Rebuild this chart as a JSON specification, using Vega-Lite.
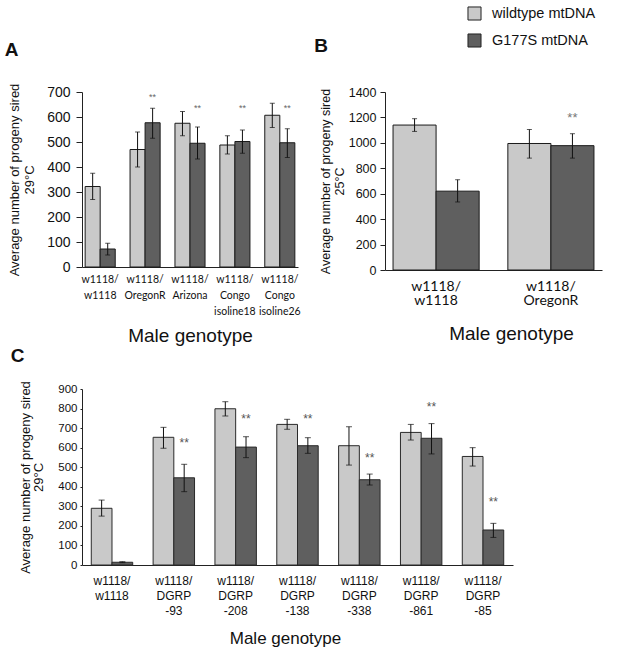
{
  "$schema": "https://vega.github.io/schema/vega-lite/v6.json",
  "padding": {"left": 4, "top": 6, "right": 4, "bottom": 4},
  "spacing": 0,
  "resolve": {"scale": {"xOffset": "independent"}},
  "config": {
    "font": "Liberation Sans",
    "view": {"stroke": null},
    "axis": {"grid": false, "domainColor": "#222", "tickColor": "#222", "labelColor": "#111", "titleColor": "#111", "titleFontWeight": "normal"},
    "axisY": {"labelOverlap": false, "format": "d"},
    "title": {"fontSize": 19, "fontWeight": "bold", "anchor": "start", "frame": "bounds", "color": "#111"},
    "legend": {
      "orient": "none", "legendX": 385, "legendY": -86, "padding": 0,
      "symbolType": "square", "symbolSize": 170, "symbolStrokeColor": "#222", "symbolStrokeWidth": 1,
      "labelFontSize": 14.5, "labelColor": "#111", "labelOffset": 10, "rowPadding": 8
    }
  },
  "vconcat": [
    {
      "hconcat": [
        {
          "title": {"text": "A", "dx": -4, "offset": 23},
          "width": 216,
          "height": 175,
          "data": {"values": [
            {"genotype": "w1118/ w1118", "mt": "wildtype mtDNA", "mean": 322, "lo": 270, "hi": 375},
            {"genotype": "w1118/ w1118", "mt": "G177S mtDNA", "mean": 72, "lo": 48, "hi": 95},
            {"genotype": "w1118/ OregonR", "mt": "wildtype mtDNA", "mean": 470, "lo": 400, "hi": 540},
            {"genotype": "w1118/ OregonR", "mt": "G177S mtDNA", "mean": 577, "lo": 515, "hi": 635, "star": 681},
            {"genotype": "w1118/ Arizona", "mt": "wildtype mtDNA", "mean": 575, "lo": 525, "hi": 622},
            {"genotype": "w1118/ Arizona", "mt": "G177S mtDNA", "mean": 495, "lo": 432, "hi": 560, "star": 635},
            {"genotype": "w1118/ Congo isoline18", "mt": "wildtype mtDNA", "mean": 488, "lo": 452, "hi": 525},
            {"genotype": "w1118/ Congo isoline18", "mt": "G177S mtDNA", "mean": 502, "lo": 455, "hi": 548, "star": 635},
            {"genotype": "w1118/ Congo isoline26", "mt": "wildtype mtDNA", "mean": 607, "lo": 558, "hi": 655},
            {"genotype": "w1118/ Congo isoline26", "mt": "G177S mtDNA", "mean": 497, "lo": 438, "hi": 553, "star": 635}
          ]},
          "encoding": {
            "x": {"field": "genotype", "type": "nominal", "sort": null,
              "scale": {"paddingInner": 0.33, "paddingOuter": 0.07},
              "axis": {"labelExpr": "split(datum.label, ' ')", "labelAngle": 0, "labelFont": "Lato", "labelFontSize": 10.5, "labelLineHeight": 16, "labelPadding": 7, "ticks": false,
                "title": "Male genotype", "titleFontSize": 19, "titlePadding": 10}},
            "xOffset": {"field": "mt", "type": "nominal", "sort": ["wildtype mtDNA", "G177S mtDNA"]}
          },
          "layer": [
            {
              "mark": {"type": "bar", "stroke": "#1a1a1a", "strokeWidth": 1},
              "encoding": {
                "y": {"field": "mean", "type": "quantitative", "scale": {"domain": [0, 700]},
                  "axis": {"values": [0, 100, 200, 300, 400, 500, 600, 700], "labelOverlap": false, "labelFontSize": 14, "tickSize": 6, "labelPadding": 6,
                    "title": ["Average number of progeny sired", "29°C"], "titleFontSize": 13, "titleLineHeight": 15, "titlePadding": 10}},
                "color": {"field": "mt", "type": "nominal", "title": null,
                  "scale": {"domain": ["wildtype mtDNA", "G177S mtDNA"], "range": ["#c9c9c9", "#5f5f5f"]}}
              }
            },
            {"mark": {"type": "rule", "color": "#111"}, "encoding": {"y": {"field": "lo", "type": "quantitative", "axis": {"values": [0, 100, 200, 300, 400, 500, 600, 700], "labelOverlap": false, "labelFontSize": 14, "tickSize": 6, "labelPadding": 6}}, "y2": {"field": "hi"}}},
            {"mark": {"type": "tick", "color": "#111", "size": 5, "thickness": 1}, "encoding": {"y": {"field": "lo", "type": "quantitative", "axis": {"values": [0, 100, 200, 300, 400, 500, 600, 700], "labelOverlap": false, "labelFontSize": 14, "tickSize": 6, "labelPadding": 6}}}},
            {"mark": {"type": "tick", "color": "#111", "size": 5, "thickness": 1}, "encoding": {"y": {"field": "hi", "type": "quantitative", "axis": {"values": [0, 100, 200, 300, 400, 500, 600, 700], "labelOverlap": false, "labelFontSize": 14, "tickSize": 6, "labelPadding": 6}}}},
            {
              "transform": [{"filter": "datum.star != null"}],
              "mark": {"type": "text", "text": "**", "fontSize": 9, "color": "#666", "baseline": "middle"},
              "encoding": {"y": {"field": "star", "type": "quantitative", "axis": {"values": [0, 100, 200, 300, 400, 500, 600, 700], "labelOverlap": false, "labelFontSize": 14, "tickSize": 6, "labelPadding": 6}}}
            }
          ]
        },
        {
          "title": {"text": "B", "dx": -5, "offset": 30},
          "width": 217,
          "height": 178,
          "data": {"values": [
            {"genotype": "w1118/ w1118", "mt": "wildtype mtDNA", "mean": 1140, "lo": 1090, "hi": 1190},
            {"genotype": "w1118/ w1118", "mt": "G177S mtDNA", "mean": 620, "lo": 535, "hi": 710},
            {"genotype": "w1118/ OregonR", "mt": "wildtype mtDNA", "mean": 995, "lo": 880, "hi": 1105},
            {"genotype": "w1118/ OregonR", "mt": "G177S mtDNA", "mean": 978, "lo": 880, "hi": 1072, "star": 1195}
          ]},
          "encoding": {
            "x": {"field": "genotype", "type": "nominal", "sort": null,
              "scale": {"paddingInner": 0.25, "paddingOuter": 0.07},
              "axis": {"labelExpr": "split(datum.label, ' ')", "labelAngle": 0, "labelFont": "Lato", "labelFontSize": 14, "labelLineHeight": 14, "labelPadding": 9, "ticks": false,
                "title": "Male genotype", "titleFontSize": 19, "titlePadding": 17, "titleX": 126}},
            "xOffset": {"field": "mt", "type": "nominal", "sort": ["wildtype mtDNA", "G177S mtDNA"]}
          },
          "layer": [
            {
              "mark": {"type": "bar", "stroke": "#1a1a1a", "strokeWidth": 1},
              "encoding": {
                "y": {"field": "mean", "type": "quantitative", "scale": {"domain": [0, 1400]},
                  "axis": {"values": [0, 200, 400, 600, 800, 1000, 1200, 1400], "labelOverlap": false, "labelFontSize": 12.5, "tickSize": 5, "labelPadding": 4,
                    "title": ["Average number of progeny sired", "25°C"], "titleFontSize": 12.5, "titleLineHeight": 14, "titlePadding": 2}},
                "color": {"field": "mt", "type": "nominal", "title": null,
                  "scale": {"domain": ["wildtype mtDNA", "G177S mtDNA"], "range": ["#c9c9c9", "#5f5f5f"]}}
              }
            },
            {"mark": {"type": "rule", "color": "#111"}, "encoding": {"y": {"field": "lo", "type": "quantitative", "axis": {"values": [0, 200, 400, 600, 800, 1000, 1200, 1400], "labelOverlap": false, "labelFontSize": 12.5, "tickSize": 5, "labelPadding": 4}}, "y2": {"field": "hi"}}},
            {"mark": {"type": "tick", "color": "#111", "size": 5, "thickness": 1}, "encoding": {"y": {"field": "lo", "type": "quantitative", "axis": {"values": [0, 200, 400, 600, 800, 1000, 1200, 1400], "labelOverlap": false, "labelFontSize": 12.5, "tickSize": 5, "labelPadding": 4}}}},
            {"mark": {"type": "tick", "color": "#111", "size": 5, "thickness": 1}, "encoding": {"y": {"field": "hi", "type": "quantitative", "axis": {"values": [0, 200, 400, 600, 800, 1000, 1200, 1400], "labelOverlap": false, "labelFontSize": 12.5, "tickSize": 5, "labelPadding": 4}}}},
            {
              "transform": [{"filter": "datum.star != null"}],
              "mark": {"type": "text", "text": "**", "fontSize": 13, "color": "#777", "baseline": "middle"},
              "encoding": {"y": {"field": "star", "type": "quantitative", "axis": {"values": [0, 200, 400, 600, 800, 1000, 1200, 1400], "labelOverlap": false, "labelFontSize": 12.5, "tickSize": 5, "labelPadding": 4}}}
            }
          ]
        }
      ],
      "spacing": 87,
      "bounds": "flush",
      "resolve": {"scale": {"xOffset": "independent"}}
    },
    {
      "title": {"text": "C", "dx": -9, "offset": 15},
      "width": 431,
      "height": 176,
      "data": {"values": [
        {"genotype": "w1118/ w1118", "mt": "wildtype mtDNA", "mean": 290, "lo": 250, "hi": 332},
        {"genotype": "w1118/ w1118", "mt": "G177S mtDNA", "mean": 14, "lo": 12, "hi": 17},
        {"genotype": "w1118/ DGRP -93", "mt": "wildtype mtDNA", "mean": 653, "lo": 597, "hi": 704},
        {"genotype": "w1118/ DGRP -93", "mt": "G177S mtDNA", "mean": 446, "lo": 375, "hi": 515, "star": 625},
        {"genotype": "w1118/ DGRP -208", "mt": "wildtype mtDNA", "mean": 799, "lo": 762, "hi": 835},
        {"genotype": "w1118/ DGRP -208", "mt": "G177S mtDNA", "mean": 603, "lo": 549, "hi": 656, "star": 745},
        {"genotype": "w1118/ DGRP -138", "mt": "wildtype mtDNA", "mean": 719, "lo": 694, "hi": 745},
        {"genotype": "w1118/ DGRP -138", "mt": "G177S mtDNA", "mean": 610, "lo": 571, "hi": 651, "star": 745},
        {"genotype": "w1118/ DGRP -338", "mt": "wildtype mtDNA", "mean": 610, "lo": 511, "hi": 707},
        {"genotype": "w1118/ DGRP -338", "mt": "G177S mtDNA", "mean": 436, "lo": 409, "hi": 465, "star": 549},
        {"genotype": "w1118/ DGRP -861", "mt": "wildtype mtDNA", "mean": 678, "lo": 639, "hi": 719},
        {"genotype": "w1118/ DGRP -861", "mt": "G177S mtDNA", "mean": 648, "lo": 568, "hi": 723, "star": 808},
        {"genotype": "w1118/ DGRP -85", "mt": "wildtype mtDNA", "mean": 555, "lo": 506, "hi": 600},
        {"genotype": "w1118/ DGRP -85", "mt": "G177S mtDNA", "mean": 179, "lo": 141, "hi": 213, "star": 324}
      ]},
      "encoding": {
        "x": {"field": "genotype", "type": "nominal", "sort": null,
          "scale": {"paddingInner": 0.33, "paddingOuter": 0.15},
          "axis": {"labelExpr": "split(datum.label, ' ')", "labelAngle": 0, "labelFontSize": 12, "labelLineHeight": 15, "labelPadding": 10, "ticks": false,
            "title": "Male genotype", "titleFontSize": 17, "titlePadding": 14, "titleX": 203}},
        "xOffset": {"field": "mt", "type": "nominal", "sort": ["wildtype mtDNA", "G177S mtDNA"]}
      },
      "layer": [
        {
          "mark": {"type": "bar", "stroke": "#2a2a2a", "strokeWidth": 1},
          "encoding": {
            "y": {"field": "mean", "type": "quantitative", "scale": {"domain": [0, 900]},
              "axis": {"values": [0, 100, 200, 300, 400, 500, 600, 700, 800, 900], "labelOverlap": false, "labelFontSize": 11.5, "tickSize": 2, "labelPadding": 3,
                "title": ["Average number of progeny sired", "29°C"], "titleFontSize": 13, "titleLineHeight": 13, "titlePadding": 12}},
            "color": {"field": "mt", "type": "nominal", "title": null,
              "scale": {"domain": ["wildtype mtDNA", "G177S mtDNA"], "range": ["#c9c9c9", "#5f5f5f"]}}
          }
        },
        {"mark": {"type": "rule", "color": "#111"}, "encoding": {"y": {"field": "lo", "type": "quantitative", "axis": {"values": [0, 100, 200, 300, 400, 500, 600, 700, 800, 900], "labelOverlap": false, "labelFontSize": 11.5, "tickSize": 2, "labelPadding": 3}}, "y2": {"field": "hi"}}},
        {"mark": {"type": "tick", "color": "#111", "size": 6, "thickness": 1}, "encoding": {"y": {"field": "lo", "type": "quantitative", "axis": {"values": [0, 100, 200, 300, 400, 500, 600, 700, 800, 900], "labelOverlap": false, "labelFontSize": 11.5, "tickSize": 2, "labelPadding": 3}}}},
        {"mark": {"type": "tick", "color": "#111", "size": 6, "thickness": 1}, "encoding": {"y": {"field": "hi", "type": "quantitative", "axis": {"values": [0, 100, 200, 300, 400, 500, 600, 700, 800, 900], "labelOverlap": false, "labelFontSize": 11.5, "tickSize": 2, "labelPadding": 3}}}},
        {
          "transform": [{"filter": "datum.star != null"}],
          "mark": {"type": "text", "text": "**", "fontSize": 12, "color": "#555", "baseline": "middle"},
          "encoding": {"y": {"field": "star", "type": "quantitative", "axis": {"values": [0, 100, 200, 300, 400, 500, 600, 700, 800, 900], "labelOverlap": false, "labelFontSize": 11.5, "tickSize": 2, "labelPadding": 3}}}
        }
      ]
    }
  ]
}
